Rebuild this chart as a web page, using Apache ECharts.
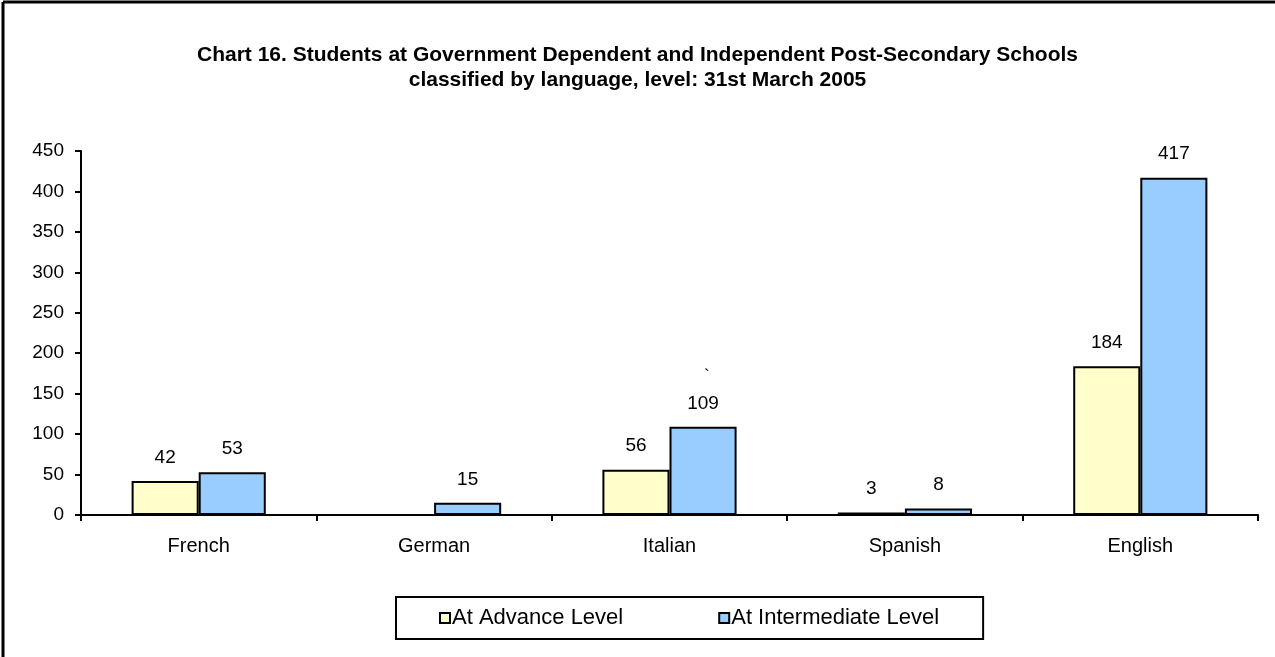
<!DOCTYPE html>
<html><head><meta charset="utf-8">
<script src="https://cdn.jsdelivr.net/npm/echarts@6/dist/echarts.min.js"></script>
<style>html,body{margin:0;padding:0;background:#fff}#c{width:1275px;height:657px}</style>
</head><body><div id="c"></div>
<script>
const categories = ['French', 'German', 'Italian', 'Spanish', 'English'];
const advanceLevel = [42, 0, 56, 3, 184];
const intermediateLevel = [53, 15, 109, 8, 417];
const seriesNames = ['At Advance Level', 'At Intermediate Level'];
const titleText = 'Chart 16. Students at Government Dependent and Independent Post-Secondary Schools\nclassified by language, level: 31st March 2005';

const FONT = 'Liberation Sans, Arial, sans-serif';
const chart = echarts.init(document.getElementById('c'));
const lbl = {
  show: true, position: 'top', distance: 14, color: '#000', fontSize: 19, fontFamily: FONT,
  formatter: p => (p.value === 0 ? '' : p.value)
};
chart.setOption({
  animation: false,
  title: {
    text: titleText, left: 'center', top: 38,
    textStyle: { fontFamily: FONT, fontWeight: 'bold', fontSize: 21, color: '#000', lineHeight: 25 }
  },
  grid: { left: 81, right: 17, top: 151, bottom: 142 },
  legend: {
    data: seriesNames, left: 396, top: 597, orient: 'horizontal',
    padding: [10, 44, 10, 43], itemGap: 95, itemWidth: 10, itemHeight: 10,
    icon: 'rect', borderColor: '#000', borderWidth: 2,
    itemStyle: { borderColor: '#000', borderWidth: 2 },
    textStyle: { fontFamily: FONT, fontSize: 22, color: '#000', padding: [0, 0, 0, -3] }
  },
  xAxis: {
    type: 'category', data: categories,
    axisLine: { lineStyle: { color: '#000', width: 2 } },
    axisTick: { show: true, length: 6, lineStyle: { color: '#000', width: 2 } },
    axisLabel: { color: '#000', fontSize: 20, fontFamily: FONT, margin: 21 }
  },
  yAxis: {
    type: 'value', min: 0, max: 450, interval: 50,
    axisLine: { show: true, lineStyle: { color: '#000', width: 2 } },
    axisTick: { show: true, length: 6, lineStyle: { color: '#000', width: 2 } },
    splitLine: { show: false },
    axisLabel: { color: '#000', fontSize: 19, fontFamily: FONT, margin: 17 }
  },
  series: [
    { name: seriesNames[0], type: 'bar', data: advanceLevel, barGap: '0%', barCategoryGap: '43%',
      itemStyle: { color: '#FFFFCC', borderColor: '#000', borderWidth: 2 }, label: lbl },
    { name: seriesNames[1], type: 'bar', data: intermediateLevel,
      itemStyle: { color: '#99CCFF', borderColor: '#000', borderWidth: 2 }, label: lbl }
  ],
  graphic: [
    { type: 'line', shape: { x1: 3, y1: 2, x2: 1275, y2: 2 }, style: { stroke: '#000', lineWidth: 3 } },
    { type: 'line', shape: { x1: 3, y1: 2, x2: 3, y2: 657 }, style: { stroke: '#000', lineWidth: 3 } },
    { type: 'text', left: 704, top: 368, style: { text: '`', fontSize: 17, fontFamily: FONT, fill: '#000' } }
  ]
});
</script></body></html>
